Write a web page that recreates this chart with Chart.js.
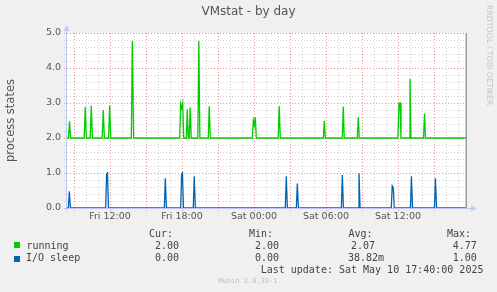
<!DOCTYPE html>
<html>
<head>
<meta charset="utf-8">
<script src="https://cdn.jsdelivr.net/npm/chart.js@4.4.1/dist/chart.umd.min.js"></script>
<style>
  body { margin: 0; background: #f0f0f0; }
  #wrap { position: relative; width: 497px; height: 292px; overflow: hidden; background: #f0f0f0; }
  #wrap canvas { position: absolute; left: 0; top: 0; }
  .t { position: absolute; white-space: pre; font-family: "DejaVu Sans Mono", monospace; font-size: 10px; line-height: 10px; color: #444; }
  .sq { position: absolute; width: 6px; height: 6px; }
</style>
</head>
<body>
<div id="wrap">
  <canvas id="vmstat" width="497" height="292"></canvas>
  <div class="t" style="left:0;top:5px;width:497px;text-align:center;font-family:'DejaVu Sans';font-size:12px;line-height:12px;color:#555">VMstat - by day</div>
  <div class="t" style="left:493px;top:5px;transform:rotate(90deg);transform-origin:0 0;font-family:'DejaVu Sans';font-size:7.8px;line-height:7.8px;color:#c4c4c4">RRDTOOL / TOBI OETIKER</div>

  <div class="t" style="left:149px;top:229px">Cur:</div>
  <div class="t" style="left:249px;top:229px">Min:</div>
  <div class="t" style="left:348.5px;top:229px">Avg:</div>
  <div class="t" style="left:447px;top:229px">Max:</div>

  <div class="sq" style="left:14px;top:242px;background:#00cc00"></div>
  <div class="t" style="left:26.5px;top:241px">running</div>
  <div class="t" style="left:155px;top:241px">2.00</div>
  <div class="t" style="left:255px;top:241px">2.00</div>
  <div class="t" style="left:351px;top:241px">2.07</div>
  <div class="t" style="left:452.7px;top:241px">4.77</div>

  <div class="sq" style="left:14px;top:256px;background:#0066b3"></div>
  <div class="t" style="left:26px;top:253px">I/O sleep</div>
  <div class="t" style="left:155px;top:253px">0.00</div>
  <div class="t" style="left:255px;top:253px">0.00</div>
  <div class="t" style="left:348px;top:253px">38.82m</div>
  <div class="t" style="left:452.7px;top:253px">1.00</div>

  <div class="t" style="left:260.7px;top:264.8px">Last update: Sat May 10 17:40:00 2025</div>
  <div class="t" style="left:218.5px;top:278px;font-size:7px;line-height:7px;color:#c0c0c0">Munin 2.0.33-1</div>
</div>
<script>
// time axis in hours since Fri 00:00, one pixel = one 5 min sample
const startHour = 8.4167;
const endHour = 41.6667;   // Sat 17:40
const xTickValues = [12, 18, 24, 30, 36];
const xTickLabels = ['Fri 12:00', 'Fri 18:00', 'Sat 00:00', 'Sat 06:00', 'Sat 12:00'];

const runningTimes = [8.42, 8.54, 8.63, 8.71, 9.85, 9.94, 10.03, 10.35, 10.44, 10.53,
  11.35, 11.44, 11.53, 11.88, 11.97, 12.06, 13.78, 13.86, 13.97,
  17.81, 17.89, 17.97, 18.06, 18.14, 18.36, 18.44, 18.52, 18.60, 18.68, 18.77,
  19.32, 19.40, 19.49, 20.19, 20.27, 20.36, 23.86, 23.94, 24.02, 24.11, 24.19,
  26.02, 26.10, 26.19, 29.78, 29.86, 29.94, 31.36, 31.44, 31.52, 32.61, 32.69, 32.77,
  35.99, 36.08, 36.17, 36.25, 36.92, 37.00, 37.08, 38.13, 38.21, 38.29, 41.67];
const runningValues = [2.00, 2.00, 2.48, 2.00, 2.00, 2.89, 2.00, 2.00, 2.93, 2.00,
  2.00, 2.80, 2.00, 2.00, 2.93, 2.00, 2.00, 4.77, 2.00,
  2.00, 2.97, 2.85, 2.99, 2.00, 2.00, 2.82, 2.00, 2.00, 2.87, 2.00,
  2.00, 4.77, 2.00, 2.00, 2.91, 2.00, 2.00, 2.50, 2.36, 2.59, 2.00,
  2.00, 2.91, 2.00, 2.00, 2.49, 2.00, 2.00, 2.90, 2.00, 2.00, 2.60, 2.00,
  2.00, 2.98, 3.00, 2.00, 2.00, 3.69, 2.00, 2.00, 2.70, 2.00, 2.00];

const ioTimes = [8.42, 8.53, 8.61, 8.70, 11.64, 11.72, 11.79, 11.87, 16.53, 16.61, 16.70,
  17.89, 17.97, 18.04, 18.12, 18.94, 19.02, 19.11, 26.61, 26.69, 26.78,
  27.53, 27.61, 27.70, 31.28, 31.36, 31.45, 32.67, 32.75, 32.84,
  35.44, 35.52, 35.61, 35.69, 37.04, 37.12, 37.21, 39.04, 39.12, 39.21, 41.67];
const ioValues = [0, 0, 0.48, 0, 0, 0.97, 1.00, 0, 0, 0.85, 0,
  0, 0.97, 1.00, 0, 0, 0.91, 0, 0, 0.91, 0,
  0, 0.70, 0, 0, 0.94, 0, 0, 0.99, 0,
  0, 0.63, 0.58, 0, 0, 0.91, 0, 0, 0.85, 0, 0];

function toPoints(times, values) {
  return times.map((t, i) => ({ x: t, y: values[i] }));
}

// white plot, rrdtool style dotted grid, axes with arrows
const muninGrid = {
  id: 'muninGrid',
  beforeDraw(chart) {
    const { ctx, chartArea: a } = chart;
    ctx.save();
    ctx.fillStyle = '#ffffff';
    ctx.fillRect(a.left, a.top, a.right - a.left, a.bottom - a.top);
    ctx.restore();
  },
  beforeDatasetsDraw(chart) {
    const { ctx, chartArea: a, scales: { x, y } } = chart;
    ctx.save();
    ctx.lineWidth = 1;
    ctx.setLineDash([1, 2]);
    // horizontal
    for (let i = 1; i <= 25; i++) {
      const py = Math.round(y.getPixelForValue(i / 5)) + 0.5;
      ctx.strokeStyle = i % 5 === 0 ? '#e89292' : '#d2d2d2';
      ctx.beginPath();
      ctx.moveTo(a.left - 3, py);
      ctx.lineTo(a.right, py);
      ctx.stroke();
    }
    // vertical
    for (let h = Math.ceil(startHour); h <= endHour; h++) {
      const px = Math.round(x.getPixelForValue(h)) + 0.5;
      const major = h % 3 === 0;
      ctx.strokeStyle = major ? '#e89292' : '#d2d2d2';
      ctx.beginPath();
      ctx.moveTo(px, a.top);
      ctx.lineTo(px, a.bottom + (major ? 3 : 0));
      ctx.stroke();
    }
    ctx.restore();
  },
  afterDatasetsDraw(chart) {
    const { ctx, chartArea: a } = chart;
    ctx.save();
    ctx.fillStyle = '#9c9c9c';
    ctx.fillRect(a.right - 0.5, a.top, 1.5, a.bottom - a.top);
    ctx.strokeStyle = 'rgba(170,184,244,0.75)';
    ctx.fillStyle = 'rgba(190,200,248,0.9)';
    ctx.lineWidth = 1;
    ctx.beginPath();
    ctx.moveTo(a.left - 0.5, a.bottom + 3);
    ctx.lineTo(a.left - 0.5, a.top - 3);
    ctx.moveTo(a.left - 3, a.bottom + 0.5);
    ctx.lineTo(a.right + 6, a.bottom + 0.5);
    ctx.stroke();
    ctx.beginPath();
    ctx.moveTo(a.left - 3.5, a.top - 2);
    ctx.lineTo(a.left + 2.5, a.top - 2);
    ctx.lineTo(a.left - 0.5, a.top - 8);
    ctx.closePath();
    ctx.fill();
    ctx.beginPath();
    ctx.moveTo(a.right + 5, a.bottom - 2.5);
    ctx.lineTo(a.right + 5, a.bottom + 3.5);
    ctx.lineTo(a.right + 11, a.bottom + 0.5);
    ctx.closePath();
    ctx.fill();
    ctx.restore();
  }
};

Chart.defaults.font.family = 'DejaVu Sans';
Chart.defaults.color = '#555';

new Chart(document.getElementById('vmstat'), {
  type: 'line',
  data: {
    datasets: [{
      label: 'running',
      data: toPoints(runningTimes, runningValues),
      borderColor: '#00cc00',
      borderWidth: 1.3,
      pointRadius: 0,
      tension: 0
    }, {
      label: 'I/O sleep',
      data: toPoints(ioTimes, ioValues),
      borderColor: '#0066b3',
      borderWidth: 1.3,
      pointRadius: 0,
      tension: 0
    }]
  },
  options: {
    responsive: false,
    animation: false,
    events: [],
    layout: { padding: { left: 0, right: 31, top: 33, bottom: 64 } },
    plugins: { legend: { display: false }, tooltip: { enabled: false } },
    scales: {
      x: {
        type: 'linear',
        min: startHour,
        max: endHour,
        grid: { display: false, drawTicks: false },
        border: { display: false },
        afterBuildTicks: (scale) => { scale.ticks = xTickValues.map(v => ({ value: v })); },
        afterFit: (scale) => { scale.height = 20; },
        ticks: {
          autoSkip: false,
          maxRotation: 0,
          padding: 3,
          font: { size: 9.5 },
          callback: (v) => xTickLabels[xTickValues.indexOf(v)]
        }
      },
      y: {
        min: 0,
        max: 5,
        grid: { display: false, drawTicks: false },
        border: { display: false },
        afterFit: (scale) => { scale.width = 67; },
        ticks: {
          stepSize: 1,
          padding: 6,
          font: { size: 9.5 },
          callback: (v) => v.toFixed(1)
        },
        title: {
          display: true,
          text: 'process states',
          font: { size: 11.5 },
          padding: { top: 4, bottom: 0 }
        }
      }
    }
  },
  plugins: [muninGrid]
});
</script>
</body>
</html>
